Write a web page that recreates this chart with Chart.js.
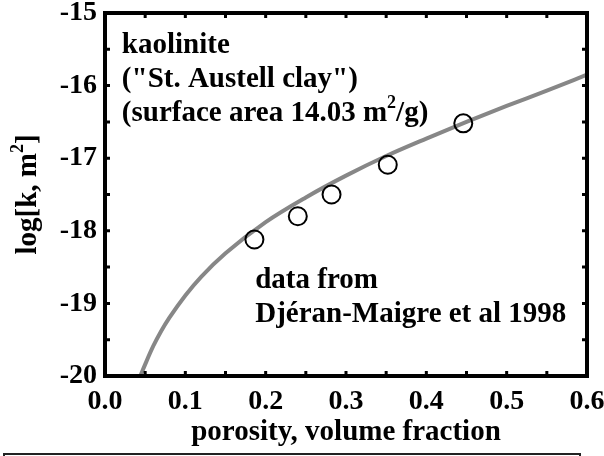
<!DOCTYPE html>
<html>
<head>
<meta charset="utf-8">
<script src="https://cdn.jsdelivr.net/npm/chart.js@4.4.1/dist/chart.umd.min.js"></script>
<style>
  html, body { margin: 0; padding: 0; background: #fff; }
  #wrap { width: 604px; height: 456px; }
</style>
</head>
<body>
<div id="wrap"><canvas id="chart" width="604" height="456"></canvas></div>
<script>
// --- Values ---
const curvePorosity = [0.044, 0.05, 0.06, 0.07, 0.08, 0.10, 0.12, 0.15, 0.20, 0.25, 0.30, 0.35, 0.40, 0.45, 0.50, 0.55, 0.60];
const curveLogK = [-20.0, -19.84, -19.59, -19.38, -19.20, -18.89, -18.63, -18.31, -17.88, -17.54, -17.24, -16.97, -16.73, -16.50, -16.28, -16.07, -15.85];
const measPorosity = [0.186, 0.240, 0.282, 0.352, 0.446];
const measLogK = [-18.12, -17.80, -17.50, -17.09, -16.52];
const xTickLabels = ['0.0', '0.1', '0.2', '0.3', '0.4', '0.5', '0.6'];
const yTickLabels = ['-20', '-19', '-18', '-17', '-16', '-15'];

const FONT = '"Liberation Serif", "Times New Roman", serif';

// annotation text, anchored in data units (first baseline)
const notes = [
    { x: 0.021, y: -15.551, lines: [
        [{ t: 'kaolinite' }],
        [{ t: '("St. Austell clay")' }],
        [{ t: '(surface area 14.03 m' }, { t: '2', sup: true }, { t: '/g)' }]
    ] },
    { x: 0.187, y: -18.788, lines: [
        [{ t: 'data from' }],
        [{ t: 'Djéran-Maigre et al 1998' }]
    ] }
];

function drawRich(ctx, parts, x, y) {
    let cx = x;
    parts.forEach(p => {
        ctx.font = p.sup ? 'bold 18px ' + FONT : 'bold 29px ' + FONT;
        ctx.fillText(p.t, cx, p.sup ? y - 13 : y);
        cx += ctx.measureText(p.t).width;
    });
    return cx - x;
}

function richWidth(ctx, parts) {
    let w = 0;
    parts.forEach(p => {
        ctx.font = p.sup ? 'bold 18px ' + FONT : 'bold 29px ' + FONT;
        w += ctx.measureText(p.t).width;
    });
    return w;
}

const framePlugin = {
    id: 'frame',
    afterDraw(chart) {
        const { ctx, chartArea: a, scales } = chart;
        const xs = scales.x, ys = scales.y;
        ctx.save();

        // inward minor ticks
        ctx.strokeStyle = '#000';
        ctx.lineWidth = 3;
        ctx.beginPath();
        for (let i = 1; i < 12; i++) {
            const px = xs.getPixelForValue(i * 0.05);
            ctx.moveTo(px, a.bottom); ctx.lineTo(px, a.bottom - 5);
            ctx.moveTo(px, a.top); ctx.lineTo(px, a.top + 5);
        }
        for (let i = 1; i < 10; i++) {
            const py = ys.getPixelForValue(-20 + i * 0.5);
            ctx.moveTo(a.left, py); ctx.lineTo(a.left + 5, py);
            ctx.moveTo(a.right, py); ctx.lineTo(a.right - 5, py);
        }
        ctx.stroke();

        // thick frame
        ctx.lineWidth = 4;
        ctx.strokeRect(a.left, a.top, a.right - a.left, a.bottom - a.top);

        // notes
        ctx.fillStyle = '#000';
        ctx.textBaseline = 'alphabetic';
        ctx.textAlign = 'left';
        notes.forEach(n => {
            const x0 = xs.getPixelForValue(n.x);
            const y0 = ys.getPixelForValue(n.y);
            n.lines.forEach((ln, i) => drawRich(ctx, ln, x0, y0 + i * 34));
        });

        // y axis title with superscript
        const yTitle = [{ t: 'log[k, m' }, { t: '2', sup: true }, { t: ']' }];
        ctx.save();
        ctx.translate(36, (a.top + a.bottom) / 2);
        ctx.rotate(-Math.PI / 2);
        const w = richWidth(ctx, yTitle);
        drawRich(ctx, yTitle, -w / 2, 0);
        ctx.restore();

        // empty box at the bottom edge
        ctx.strokeStyle = '#222';
        ctx.lineWidth = 2;
        ctx.strokeRect(4, 454, 576, 20);

        ctx.restore();
    }
};

new Chart(document.getElementById('chart'), {
    type: 'scatter',
    data: {
        datasets: [{
            label: 'measured',
            data: measPorosity.map((x, i) => ({ x, y: measLogK[i] })),
            showLine: false,
            pointRadius: 9,
            pointBorderWidth: 2,
            borderColor: '#000',
            backgroundColor: 'rgba(0,0,0,0)'
        }, {
            label: 'model',
            data: curvePorosity.map((x, i) => ({ x, y: curveLogK[i] })),
            showLine: true,
            pointRadius: 0,
            borderColor: '#878787',
            borderWidth: 4,
            cubicInterpolationMode: 'monotone',
            fill: false
        }]
    },
    options: {
        responsive: false,
        animation: false,
        devicePixelRatio: 1,
        layout: { padding: { top: 13, right: 17, left: 0, bottom: 0 } },
        plugins: { legend: { display: false }, tooltip: { enabled: false } },
        scales: {
            x: {
                type: 'linear',
                min: 0, max: 0.6,
                grid: { display: false, drawTicks: false },
                border: { display: false },
                ticks: {
                    stepSize: 0.1,
                    padding: 9,
                    maxRotation: 0,
                    color: '#000',
                    font: { family: FONT, size: 28, weight: 'bold' },
                    callback: (v, i) => xTickLabels[i]
                },
                title: {
                    display: true,
                    text: 'porosity, volume fraction',
                    color: '#000',
                    font: { family: FONT, size: 29, weight: 'bold' },
                    padding: { top: 0, bottom: 6 }
                },
                afterFit(s) {
                    s.height = 80;
                    s.paddingLeft = 0; s.paddingRight = 0;
                }
            },
            y: {
                type: 'linear',
                min: -20, max: -15,
                grid: { display: false, drawTicks: false },
                border: { display: false },
                ticks: {
                    stepSize: 1,
                    padding: 8,
                    color: '#000',
                    font: { family: FONT, size: 28, weight: 'bold' },
                    callback: (v, i) => yTickLabels[i]
                },
                afterFit(s) {
                    s.width = 105;
                    s.paddingTop = 0; s.paddingBottom = 0;
                }
            }
        }
    },
    plugins: [framePlugin]
});
</script>
</body>
</html>
